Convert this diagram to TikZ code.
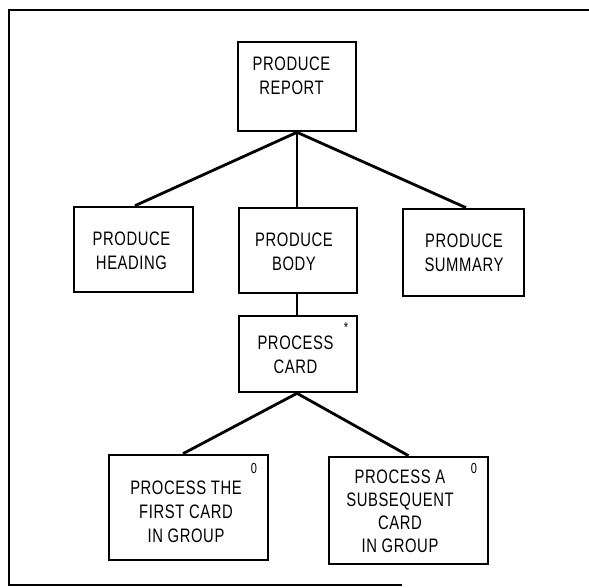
\documentclass[tikz,border=0pt]{standalone}
\usepackage{fontspec}
\newfontfamily\diagfont[FakeStretch=0.76,LetterSpace=3]{Liberation Sans}
\begin{document}
\begin{tikzpicture}[x=1pt,y=-1pt,
  box/.style={draw,line width=2.6pt,inner sep=0pt},
  txt/.style={font=\diagfont\fontsize{19.5}{24}\selectfont,align=center,inner sep=0pt},
  tag/.style={font=\diagfont\fontsize{14.5}{14.5}\selectfont,inner sep=0pt},
  link/.style={line width=2.8pt},
  frame/.style={line width=2.2pt}]
\useasboundingbox (0,0) rectangle (589,588);

% open frame: top, left and part of the bottom
\coordinate (fr-tr) at (589,10);
\coordinate (fr-tl) at (9,10);
\coordinate (fr-bl) at (9,585);
\coordinate (fr-br) at (402,585);
\draw[frame] (fr-tr) -- (fr-tl) -- (fr-bl) -- (fr-br);

% boxes
\node[box,minimum width=118,minimum height=89] (report) at (297,86.5) {};
\node[txt] (report-t) at (291.5,75.5) {PRODUCE\\REPORT};

\node[box,minimum width=119,minimum height=85] (heading) at (133.5,249.5) {};
\node[txt] (heading-t) at (131.5,251) {PRODUCE\\HEADING};

\node[box,minimum width=118,minimum height=85] (body) at (298,250.5) {};
\node[txt] (body-t) at (294,252) {PRODUCE\\BODY};

\node[box,minimum width=121,minimum height=87] (summary) at (463.5,252.5) {};
\node[txt] (summary-t) at (464,253) {PRODUCE\\SUMMARY};

\node[box,minimum width=118,minimum height=76] (card) at (298,354) {};
\node[txt] (card-t) at (295.5,355) {PROCESS\\CARD};
\node[tag] (card-m) at (346,328) {*};

\node[box,minimum width=159,minimum height=105] (first) at (188.5,507.5) {};
\node[txt] (first-t) at (186,512) {PROCESS THE\\FIRST CARD\\IN GROUP};
\node[tag] (first-m) at (254,469) {0};

\node[box,minimum width=159,minimum height=107] (subseq) at (408.5,510.5) {};
\node[txt,font=\diagfont\fontsize{19.5}{23}\selectfont] (subseq-t) at (400,511.5) {PROCESS A\\SUBSEQUENT\\CARD\\IN GROUP};
\node[tag] (subseq-m) at (474,469) {0};

% connectors
\draw[link] (report.south) -- ([xshift=1.5pt]heading.north);
\draw[link] (report.south) -- (body.north -| report.south);
\draw[link] (report.south) -- ([xshift=2.5pt]summary.north);
\draw[link] (body.south -| report.south) -- (card.north -| report.south);
\draw[link] (card.south -| report.south) -- ([xshift=-5.5pt]first.north);
\draw[link] (card.south -| report.south) -- (subseq.north);
\end{tikzpicture}
\end{document}
